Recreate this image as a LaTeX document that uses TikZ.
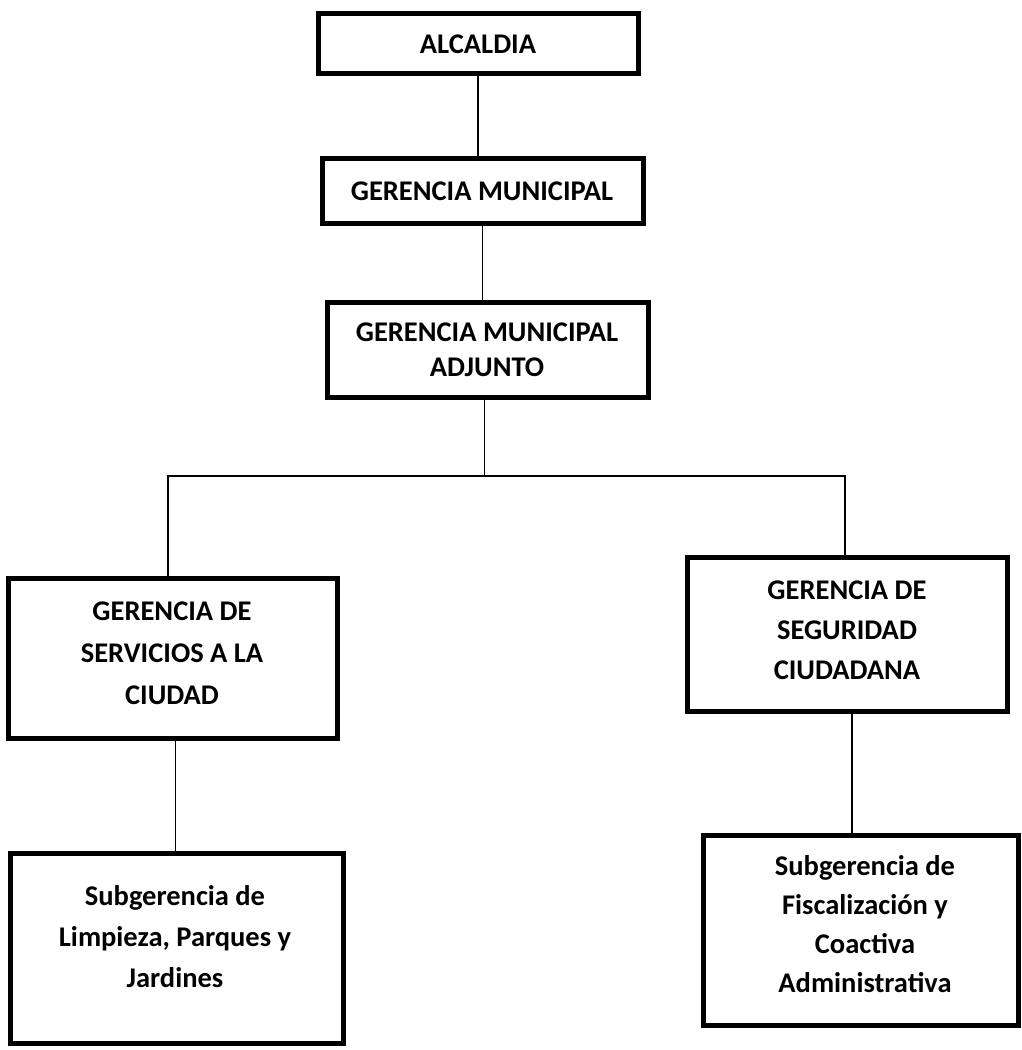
\documentclass[tikz,border=0pt]{standalone}
\usepackage{fontspec}
\setmainfont{Carlito}
\usetikzlibrary{calc}
\begin{document}
\begin{tikzpicture}[x=1pt,y=-1pt,
  box/.style={draw=black,line width=5pt,rectangle,inner sep=0pt},
  lbl/.style={font=\bfseries\fontsize{28.5}{#1}\selectfont,align=center,inner sep=0pt,text=black},
  lbl/.default=41,
  wire/.style={draw=black,line width=1.8pt}]
\useasboundingbox[fill=white] (0,0) rectangle (1021,1050);
% boxes
\node[box,minimum width=320pt,minimum height=60pt] (alc) at (478,43) {};
\node[box,minimum width=321pt,minimum height=65pt] (gm) at (482.5,190.5) {};
\node[box,minimum width=321pt,minimum height=95pt] (gma) at (487.5,349.5) {};
\node[box,minimum width=329pt,minimum height=160pt] (gsc) at (172.5,658) {};
\node[box,minimum width=320pt,minimum height=154pt] (gseg) at (847,634) {};
\node[box,minimum width=333pt,minimum height=190pt] (slpj) at (176.5,948) {};
\node[box,minimum width=315pt,minimum height=190pt] (sfca) at (860.5,930) {};
% texts
\node[lbl] (talc) at (478,44) {ALCALDIA};
\node[lbl] (tgm) at (482,191) {GERENCIA MUNICIPAL};
\node[lbl=35] (tgma) at (487,350) {GERENCIA MUNICIPAL\\ADJUNTO};
\node[lbl=42] (tgsc) at (172,653) {GERENCIA DE\\SERVICIOS A LA\\CIUDAD};
\node[lbl=40] (tgseg) at (847,630) {GERENCIA DE\\SEGURIDAD\\CIUDADANA};
\node[lbl=41] (tslpj) at (175,937) {Subgerencia de\\Limpieza, Parques y\\Jardines};
\node[lbl=39] (tsfca) at (865,924) {Subgerencia de\\Fiscalización y\\Coactiva\\Administrativa};
% connectors
\coordinate (busL) at (168,476);
\coordinate (busR) at (845,476);
\draw[wire] (alc.south) -- (alc.south |- gm.north);
\draw[wire] (gm.south) -- (gm.south |- gma.north);
\draw[wire] ($(gma.south)+(-3,0)$) -- ($(gma.south |- busL)+(-3,0)$);
\draw[wire] (gsc.north -| busL) -- (busL) -- (busR) -- (gseg.north -| busR);
\draw[wire] ($(gsc.south)+(3,0)$) -- ($(gsc.south |- slpj.north)+(3,0)$);
\draw[wire] ($(gseg.south)+(5,0)$) -- ($(gseg.south |- sfca.north)+(5,0)$);
\end{tikzpicture}
\end{document}
